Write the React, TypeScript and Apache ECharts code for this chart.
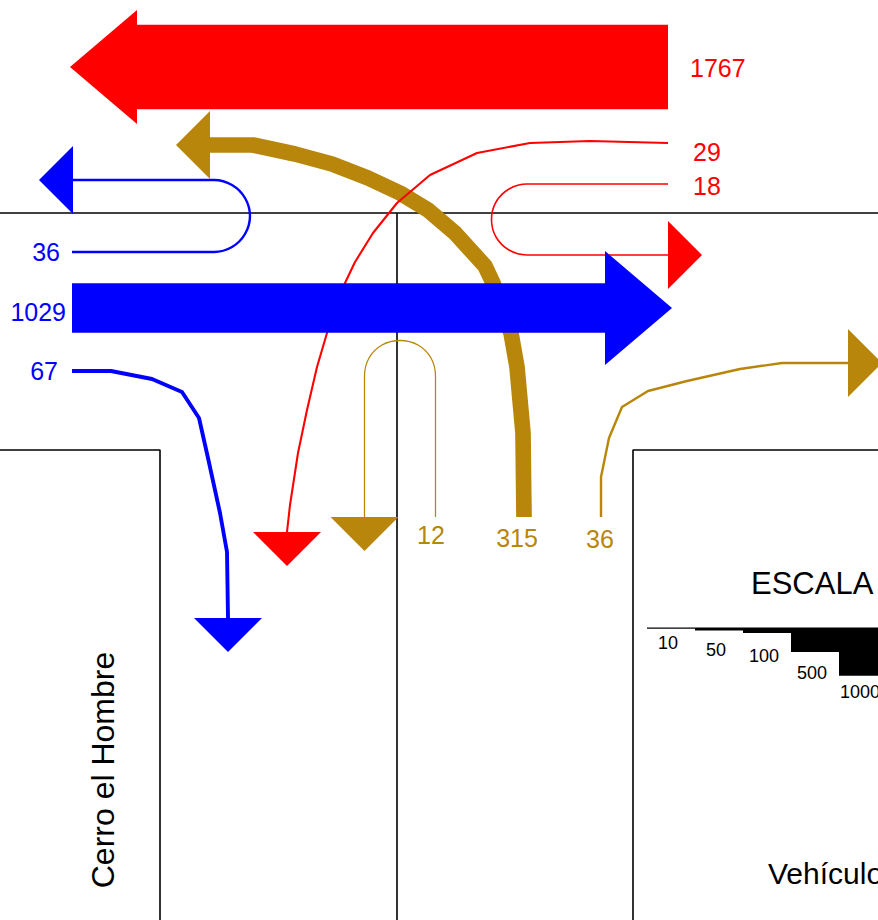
import React, { useEffect, useRef } from "react";
import * as echarts from "echarts";

const W = 878;
const H = 920;
const FONT = "'Liberation Sans', Arial, Helvetica, sans-serif";

// ---- Flow data (vehicles) ----
const flowNames = ["E→O", "E→S", "E retorno", "O retorno", "O→E", "O→S", "S retorno", "S→O", "S→E"];
const flowValues = [1767, 29, 18, 36, 1029, 67, 12, 315, 36];
const flowColors = ["#ff0000", "#ff0000", "#ff0000", "#0000ff", "#0000ff", "#0000ff", "#b8860b", "#b8860b", "#b8860b"];
const flowHeads = ["left", "down", "right", "left", "right", "down", "down", "left", "right"];
const flowSmooth = [0, 0, 0.35, 0.35, 0, 0, 0.35, 0, 0];

// ---- Route geometry (diagram coordinates) ----
const routeE_O = [[668, 67], [137, 67]];
const routeE_S = [[668, 143], [590, 141], [530, 143], [477, 153], [430, 175], [397, 203], [373, 233], [355, 262], [345, 283], [327, 333], [317, 367], [307, 410], [298, 453], [290, 505], [287, 532]];
const routeE_R = [[668, 184], [540, 184], [527, 184], [509, 189], [496, 202], [491.5, 219.5], [496, 237], [509, 250], [527, 255], [540, 255], [668, 255]];
const routeO_R = [[72, 252], [200, 252], [214, 252], [232, 247], [245, 234], [250, 216], [245, 198], [232, 185], [214, 180], [200, 180], [73, 180]];
const routeO_E = [[72, 308], [605, 308]];
const routeO_S = [[72, 371], [111, 371], [152, 379], [182, 392], [199, 418], [208, 458], [220, 513], [227, 552], [228, 618]];
const routeS_R = [[435.5, 517], [435.5, 390], [435.5, 376], [431, 358], [418, 345], [400, 340.5], [382, 345], [369, 358], [364.5, 376], [364.5, 390], [364.5, 517]];
const routeS_O = [[524, 517], [523, 433], [517, 367], [511, 333], [493, 283], [485, 266], [455, 233], [428, 210], [400, 193], [368, 178], [332, 164], [295, 154], [253, 145], [210, 145]];
const routeS_E = [[601, 517], [601, 477], [609, 438], [622, 407], [648, 391], [687, 381], [740, 369], [782, 363], [848, 363]];
const flowRoutes = [routeE_O, routeE_S, routeE_R, routeO_R, routeO_E, routeO_S, routeS_R, routeS_O, routeS_E];

// label placement relative to route start (layout)
const labelDx = [22, 25, 25, -12, -6, -14, -4.5, -7, -1];
const labelDy = [1, 9, 2, 0, 4, 0, 18, 21, 22];
const labelAlign = ["left", "left", "left", "right", "right", "right", "center", "center", "center"];

// ---- Road outlines ----
const roadLines = [
  [[0, 213], [878, 213]],
  [[397, 213], [397, 920]],
  [[0, 450], [160, 450], [160, 920]],
  [[878, 450], [633, 450], [633, 920]],
];

// ---- Scale legend ----
const scaleValues = [10, 50, 100, 500, 1000];
const SCALE_X0 = 647;
const SCALE_STEP = 48;
const SCALE_TOP = 627.5;
const scaleLabelDy = [14, 19, 23, 21, 16];
const SCALE_LABEL_DX = -3;

const PX_PER_VEH = 0.0475;
const thickness = (v: number) => v * PX_PER_VEH + 0.7;

const drawOrder = [6, 7, 8, 0, 1, 2, 3, 4, 5];

export default function App() {
  const ref = useRef<HTMLDivElement>(null);
  useEffect(() => {
    if (!ref.current) return;
    const chart = echarts.init(ref.current, undefined, { renderer: "svg" });

    const roadSeries = roadLines.map((r) => ({
      type: "line",
      data: r,
      symbol: "none",
      silent: true,
      lineStyle: { color: "#000000", width: 1.6 },
      z: 1,
    }));

    const flowSeries = drawOrder.map((i) => ({
      type: "line",
      name: flowNames[i],
      data: flowRoutes[i],
      symbol: "none",
      smooth: flowSmooth[i],
      silent: true,
      lineStyle: { color: flowColors[i], width: thickness(flowValues[i]), cap: "butt", join: "round" },
      z: 2,
    }));

    const headsSeries = {
      type: "custom",
      silent: true,
      z: 3,
      data: flowRoutes.map((r, i) => [r[r.length - 1][0], r[r.length - 1][1], flowValues[i]]),
      renderItem: (params: any, api: any) => {
        const i = params.dataIndex;
        const v = api.value(2);
        const p = api.coord([api.value(0), api.value(1)]);
        const big = v >= 1000;
        const len = big ? 67 : 34;
        const half = big ? 57 : 34;
        const d = flowHeads[i];
        let pts: number[][];
        if (d === "left") pts = [[p[0], p[1] - half], [p[0] - len, p[1]], [p[0], p[1] + half]];
        else if (d === "right") pts = [[p[0], p[1] - half], [p[0] + len, p[1]], [p[0], p[1] + half]];
        else if (d === "down") pts = [[p[0] - half, p[1]], [p[0], p[1] + len], [p[0] + half, p[1]]];
        else pts = [[p[0] - half, p[1]], [p[0], p[1] - len], [p[0] + half, p[1]]];
        return { type: "polygon", shape: { points: pts }, style: { fill: flowColors[i] } };
      },
    };

    const labelSeries = {
      type: "custom",
      silent: true,
      z: 5,
      data: flowRoutes.map((r, i) => [r[0][0] + labelDx[i], r[0][1] + labelDy[i], flowValues[i]]),
      renderItem: (params: any, api: any) => {
        const i = params.dataIndex;
        const p = api.coord([api.value(0), api.value(1)]);
        return {
          type: "text",
          x: p[0],
          y: p[1],
          style: {
            text: String(api.value(2)),
            fill: flowColors[i],
            font: `25px ${FONT}`,
            align: labelAlign[i],
            textAlign: labelAlign[i],
            verticalAlign: "middle",
            textVerticalAlign: "middle",
          },
        };
      },
    };

    const scaleSeries = {
      type: "custom",
      silent: true,
      z: 5,
      data: scaleValues.map((v, i) => [SCALE_X0 + i * SCALE_STEP, SCALE_TOP, v]),
      renderItem: (params: any, api: any) => {
        const i = params.dataIndex;
        const v = api.value(2);
        const p = api.coord([api.value(0), api.value(1)]);
        const h = thickness(v);
        return {
          type: "group",
          children: [
            { type: "rect", shape: { x: p[0], y: p[1], width: SCALE_STEP, height: h }, style: { fill: "#000" } },
            {
              type: "text",
              x: p[0] + SCALE_STEP / 2 + SCALE_LABEL_DX,
              y: p[1] + h + scaleLabelDy[i],
              style: {
                text: String(v),
                fill: "#000",
                font: `18px ${FONT}`,
                align: "center",
                textAlign: "center",
                verticalAlign: "middle",
                textVerticalAlign: "middle",
              },
            },
          ],
        };
      },
    };

    const textStyle = (size: number, align: string) => ({
      fill: "#000",
      font: `${size}px ${FONT}`,
      align,
      textAlign: align,
      verticalAlign: "middle",
      textVerticalAlign: "middle",
    });

    chart.setOption({
      animation: false,
      grid: { left: 0, right: 0, top: 0, bottom: 0, containLabel: false },
      xAxis: { type: "value", min: 0, max: W, show: false },
      yAxis: { type: "value", min: 0, max: H, inverse: true, show: false },
      series: [...roadSeries, ...flowSeries, headsSeries, labelSeries, scaleSeries],
      graphic: [
        { type: "text", x: 103, y: 770, rotation: Math.PI / 2, style: { text: "Cerro el Hombre", ...textStyle(32, "center") } },
        { type: "text", x: 751, y: 583, style: { text: "ESCALA", ...textStyle(31, "left") } },
        { type: "text", x: 768, y: 873, style: { text: "Vehículos", ...textStyle(30, "left") } },
      ],
    });
    return () => chart.dispose();
  }, []);
  return <div ref={ref} style={{ position: "fixed", left: 0, top: 0, width: W, height: H, background: "#fff" }} />;
}
